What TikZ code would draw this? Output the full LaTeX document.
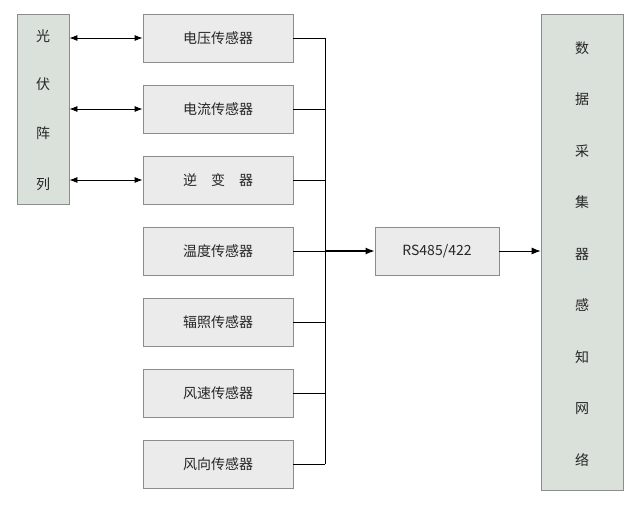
\documentclass[tikz,border=0pt]{standalone}
\usepackage{fontspec}
\setmainfont{Noto Sans CJK SC}
\usetikzlibrary{arrows.meta}
\begin{document}
\begin{tikzpicture}[x=1pt,y=-1pt,
  lbl/.style={font=\fontsize{14}{16}\selectfont,text=black!85},
  box/.style={draw=black!45,fill=black!8,line width=0.8pt,inner sep=0pt,lbl},
  side/.style={draw=black!45,fill=black!10!green!3!white!88!black,line width=0.8pt,inner sep=0pt},
  wire/.style={line width=0.8pt},
  arr/.style={wire,-{Latex[length=9pt,width=7pt]}},
  barr/.style={wire,{Latex[length=8pt,width=6pt]}-{Latex[length=8pt,width=6pt]}}]
\useasboundingbox (0,0) rectangle (643,504);
\node[side,minimum width=52pt,minimum height=190pt] (pv) at (43,109) {};
\foreach \t/\yy in {光/36,伏/84,阵/133,列/184} \node[lbl] at (43,\yy) {\t};
\foreach \n/\t/\yy in {s1/电压传感器/38,s2/电流传感器/109,s3/逆\hspace{1em}变\hspace{1em}器/180,s4/温度传感器/251,s5/辐照传感器/322,s6/风速传感器/393,s7/风向传感器/464}
  \node[box,minimum width=150pt,minimum height=48pt] (\n) at (218,\yy) {\t};
\node[box,minimum width=124pt,minimum height=48pt] (rs) at (437,251) {RS485/422};
\node[side,minimum width=82pt,minimum height=476pt] (dc) at (582,252) {};
\foreach \t [count=\i] in {数,据,采,集,器,感,知,网,络}
  \node[lbl] at (582,{48+(\i-1)*51.5}) {\t};
\coordinate (btop) at (325,38);
\coordinate (bbot) at (325,464);
\coordinate (bmid) at (325,251);
\foreach \n in {s1,s2,s3} \draw[barr] (pv.east |- \n) -- (\n.west);
\foreach \n in {s1,s2,s3,s4,s5,s6,s7} \draw[wire] (\n.east) -- (btop |- \n);
\draw[wire] (btop) -- (bbot);
\draw[arr,line width=1.4pt] (bmid) -- (rs.west);
\draw[arr] (rs.east) -- (dc.west |- rs);
\end{tikzpicture}
\end{document}
